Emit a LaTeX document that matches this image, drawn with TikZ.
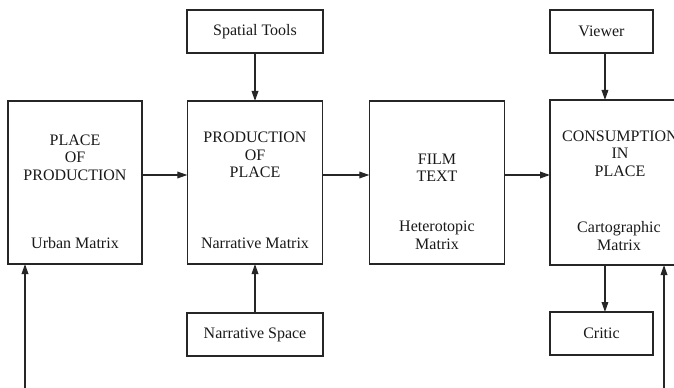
\documentclass[tikz,border=0pt]{standalone}
\usepackage{fontspec}
\setmainfont{Liberation Serif}
\usetikzlibrary{arrows.meta}

\tikzset{
  ink/.style={draw=black!85, line width=0.95pt},
  box/.style={ink, rectangle, inner sep=0pt, outer sep=0pt},
  bigbox/.style={box, minimum width=101.5pt, minimum height=122.25pt},
  smallbox/.style={box, minimum height=32.25pt},
  txt/.style={inner sep=0pt, align=center, text=black!90,
    font=\fontsize{12}{13.1}\selectfont},
  flow/.style={ink, -{Triangle[length=7.5pt, width=5pt]}}
}

\begin{document}
\begin{tikzpicture}[x=0.75pt, y=-0.75pt]
  \useasboundingbox (0,0) rectangle (674,388);
  \clip (0,0) rectangle (674,388);

  % main chain of four stages
  \node[bigbox, minimum width=100.5pt] (prodplace) at (75,182.5) {};
  \node[bigbox] (placeprod) at (255,182.5) {};
  \node[bigbox] (film) at (437,182.5) {};
  \node[bigbox, minimum width=105pt, minimum height=123.75pt] (consume) at (620,182.5) {};

  % stage texts
  \node[txt] at (75,157.5) {PLACE\\OF\\PRODUCTION};
  \node[txt] at (75,243) {Urban Matrix};
  \node[txt] at (255,155) {PRODUCTION\\OF\\PLACE};
  \node[txt] at (255,243.5) {Narrative Matrix};
  \node[txt] at (437,167.5) {FILM\\TEXT};
  \node[txt] at (437,235.5) {Heterotopic\\Matrix};
  \node[txt] at (620,153.5) {CONSUMPTION\\IN\\PLACE};
  \node[txt] at (619,236) {Cartographic\\Matrix};

  % satellite boxes
  \node[smallbox, minimum width=102pt] (tools) at (255,31.5) {};
  \node[txt] at (255,31.5) {Spatial Tools};
  \node[smallbox, minimum width=102pt] (nspace) at (255,334.5) {};
  \node[txt] at (255,334.5) {Narrative Space};
  \node[smallbox, minimum width=77.25pt] (viewer) at (601.5,31.5) {};
  \node[txt] at (601.5,31.5) {Viewer};
  \node[smallbox, minimum width=77.25pt] (critic) at (601.5,333.5) {};
  \node[txt] at (601.5,333.5) {Critic};

  % free ends of the feedback arrows
  \coordinate (feedL) at (25,390);
  \coordinate (feedR) at (664,390);

  % horizontal flow
  \draw[flow] (prodplace.east |- 0,175) -- (placeprod.west |- 0,175);
  \draw[flow] (placeprod.east |- 0,175) -- (film.west |- 0,175);
  \draw[flow] (film.east |- 0,175) -- (consume.west |- 0,175);

  % vertical inputs and outputs
  \draw[flow] (tools.south) -- (tools.south |- placeprod.north);
  \draw[flow] (nspace.north) -- (nspace.north |- placeprod.south);
  \draw[flow] ([xshift=2.6pt]viewer.south) -- ([xshift=2.6pt]viewer.south |- consume.north);
  \draw[flow] ([xshift=2.6pt]critic.north |- consume.south) -- ([xshift=2.6pt]critic.north);

  % feedback arrows from below
  \draw[flow] (feedL) -- (feedL |- prodplace.south);
  \draw[flow] (feedR) -- (feedR |- consume.south);
\end{tikzpicture}
\end{document}
